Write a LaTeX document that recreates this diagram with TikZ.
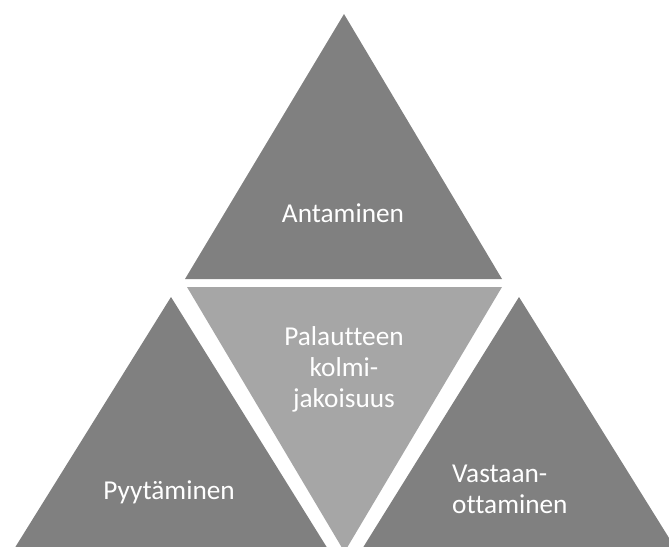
\documentclass[tikz,border=0pt]{standalone}
\usepackage{fontspec}
\setmainfont{Carlito}[Ligatures=NoCommon]
\usetikzlibrary{positioning}
\definecolor{darkseg}{HTML}{808080}
\definecolor{lightseg}{HTML}{A6A6A6}

\begin{document}
\begin{tikzpicture}[
    x=1pt, y=-1pt,
    seg/.style={fill=darkseg},
    centre/.style={fill=lightseg},
    label/.style={text=white, font=\fontsize{27.3}{31}\selectfont, inner sep=0pt, align=center, anchor=base},
]
\useasboundingbox (0,0) rectangle (669,546);
\clip (0,0) rectangle (669,546);

% Top triangle
\coordinate (topapex) at (344,14);
\fill[seg] (185,279) -- (topapex) -- (502,279) -- cycle;

% Middle triangle (upside down)
\coordinate (midapex) at (344.5,552);
\fill[centre] (187,287) -- (502,287) -- (midapex) -- cycle;

% Bottom triangles
\coordinate (leftapex) at (171,297);
\coordinate (rightapex) at (519,297);
\fill[seg] (leftapex) -- (336,562) -- (6,562) -- cycle;
\fill[seg] (rightapex) -- (684,562) -- (354,562) -- cycle;

% Labels (multi-line ones sit on their last baseline)
\node[label] (give) at (343,222) {Antaminen};
\node[label] (core) at (344,407) {Palautteen\\kolmi-\\jakoisuus};
\node[label] (ask) at (169,499) {Pyytäminen};
\node[label, align=left, anchor=base west] (take) at (452,513) {Vastaan-\\ottaminen};

\end{tikzpicture}
\end{document}
